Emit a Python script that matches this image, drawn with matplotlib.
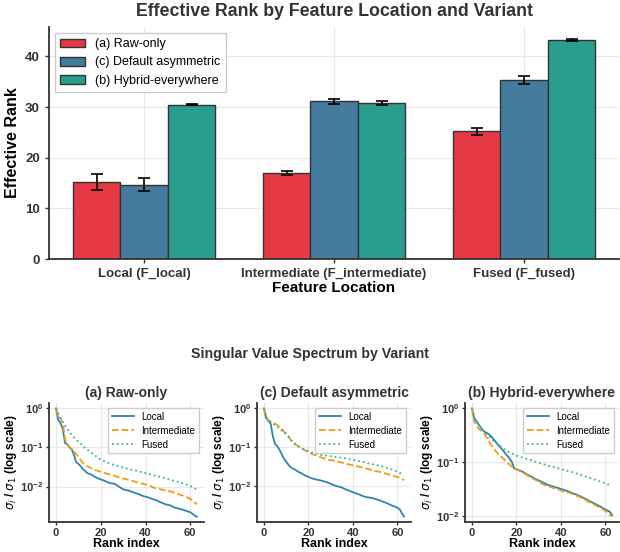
import numpy as np
import matplotlib
matplotlib.use("Agg")
import matplotlib.pyplot as plt

plt.rcParams['font.family'] = ['Liberation Sans', 'DejaVu Sans']
plt.rcParams['mathtext.fontset'] = 'dejavusans'

# --- данные: эффективный ранг ---
locations = ['Local (F_local)', 'Intermediate (F_intermediate)', 'Fused (F_fused)']
variants = ['(a) Raw-only', '(c) Default asymmetric', '(b) Hybrid-everywhere']
bar_colors = ['#E63946', '#457B9D', '#2A9D8F']

rank_raw = [15.2, 17.0, 25.2]
rank_default = [14.7, 31.1, 35.4]
rank_hybrid = [30.5, 30.8, 43.3]
err_raw = [1.5, 0.35, 0.75]
err_default = [1.2, 0.5, 0.8]
err_hybrid = [0.15, 0.4, 0.2]

# --- данные: спектр сингулярных значений (sigma_i / sigma_1) ---
raw_local = [1.0, 0.50, 0.42, 0.30, 0.13, 0.12, 0.10, 0.09, 0.065, 0.042,
             0.038, 0.033, 0.028, 0.025, 0.022, 0.021, 0.020, 0.018, 0.017, 0.016,
             0.0152, 0.0145, 0.0138, 0.0130, 0.0122, 0.0120, 0.0118, 0.0110, 0.0100, 0.0092,
             0.0085, 0.0082, 0.0080, 0.0077, 0.0073, 0.0070, 0.0067, 0.0064, 0.0060, 0.0057,
             0.0055, 0.0053, 0.0051, 0.0048, 0.0046, 0.0044, 0.0041, 0.0039, 0.0037, 0.0035,
             0.0034, 0.0033, 0.0031, 0.0029, 0.0028, 0.0027, 0.0026, 0.0025, 0.0024, 0.0023,
             0.0022, 0.0020, 0.0018, 0.0017]
raw_inter = [1.0, 0.62, 0.55, 0.42, 0.17, 0.12, 0.105, 0.09, 0.078, 0.068,
             0.058, 0.048, 0.040, 0.036, 0.033, 0.031, 0.029, 0.027, 0.026, 0.025,
             0.024, 0.023, 0.022, 0.021, 0.0205, 0.020, 0.019, 0.018, 0.0172, 0.0165,
             0.016, 0.0155, 0.015, 0.0145, 0.014, 0.0135, 0.013, 0.0125, 0.012, 0.0117,
             0.0114, 0.011, 0.0105, 0.0098, 0.0092, 0.009, 0.0088, 0.0085, 0.0082, 0.008,
             0.0077, 0.0075, 0.0072, 0.007, 0.0066, 0.0063, 0.006, 0.0058, 0.0055, 0.0052,
             0.0048, 0.0044, 0.0039, 0.0035]
raw_fused = [1.0, 0.75, 0.58, 0.45, 0.36, 0.30, 0.25, 0.21, 0.18, 0.16,
             0.14, 0.125, 0.11, 0.098, 0.088, 0.08, 0.072, 0.065, 0.059, 0.054,
             0.049, 0.046, 0.043, 0.041, 0.039, 0.037, 0.0355, 0.034, 0.0328, 0.0316,
             0.0305, 0.0295, 0.0286, 0.0277, 0.0268, 0.026, 0.0252, 0.0244, 0.0236, 0.0228,
             0.022, 0.0213, 0.0206, 0.0199, 0.0192, 0.0186, 0.018, 0.0174, 0.0168, 0.0162,
             0.0156, 0.015, 0.0144, 0.0139, 0.0134, 0.0129, 0.0124, 0.0119, 0.0114, 0.0109,
             0.0104, 0.0097, 0.009, 0.0085]

def_local = [1.0, 0.56, 0.47, 0.40, 0.19, 0.12, 0.105, 0.085, 0.065, 0.05,
             0.042, 0.035, 0.03, 0.028, 0.026, 0.024, 0.022, 0.021, 0.019, 0.018,
             0.017, 0.016, 0.0153, 0.0148, 0.0143, 0.014, 0.0135, 0.013, 0.0125, 0.012,
             0.0112, 0.0106, 0.0101, 0.0097, 0.0094, 0.009, 0.0085, 0.008, 0.0076, 0.0072,
             0.0068, 0.0065, 0.0062, 0.0059, 0.0056, 0.0053, 0.0051, 0.005, 0.0049, 0.0048,
             0.0046, 0.0044, 0.0042, 0.004, 0.0038, 0.0036, 0.0034, 0.0032, 0.003, 0.0029,
             0.0027, 0.0025, 0.002, 0.0016]
def_inter = [1.0, 0.56, 0.5, 0.46, 0.42, 0.40, 0.37, 0.33, 0.29, 0.25,
             0.22, 0.19, 0.155, 0.13, 0.12, 0.11, 0.1, 0.092, 0.085, 0.079,
             0.074, 0.069, 0.065, 0.062, 0.059, 0.056, 0.053, 0.051, 0.049, 0.047,
             0.046, 0.045, 0.044, 0.043, 0.041, 0.04, 0.039, 0.037, 0.036, 0.035,
             0.034, 0.033, 0.032, 0.031, 0.03, 0.029, 0.028, 0.027, 0.026, 0.025,
             0.024, 0.0235, 0.023, 0.022, 0.0212, 0.0205, 0.0198, 0.019, 0.0183, 0.0176,
             0.017, 0.016, 0.015, 0.014]
def_fused = [1.0, 0.6, 0.49, 0.44, 0.41, 0.37, 0.34, 0.31, 0.27, 0.24,
             0.215, 0.185, 0.155, 0.135, 0.12, 0.108, 0.1, 0.094, 0.088, 0.083,
             0.079, 0.075, 0.071, 0.068, 0.066, 0.064, 0.062, 0.061, 0.06, 0.059,
             0.058, 0.057, 0.056, 0.055, 0.054, 0.053, 0.052, 0.05, 0.049, 0.048,
             0.047, 0.046, 0.044, 0.043, 0.042, 0.041, 0.039, 0.038, 0.037, 0.036,
             0.035, 0.034, 0.033, 0.032, 0.031, 0.0295, 0.028, 0.027, 0.026, 0.0245,
             0.023, 0.0215, 0.0205, 0.02]

hyb_local = [1.0, 0.65, 0.58, 0.5, 0.44, 0.39, 0.36, 0.345, 0.32, 0.29,
             0.26, 0.23, 0.205, 0.185, 0.165, 0.145, 0.13, 0.115, 0.1, 0.077,
             0.074, 0.072, 0.069, 0.066, 0.062, 0.059, 0.056, 0.053, 0.05, 0.048,
             0.046, 0.044, 0.042, 0.04, 0.038, 0.037, 0.036, 0.035, 0.034, 0.033,
             0.032, 0.031, 0.03, 0.029, 0.028, 0.027, 0.026, 0.025, 0.024, 0.023,
             0.022, 0.021, 0.02, 0.019, 0.018, 0.0172, 0.0164, 0.0156, 0.0148, 0.014,
             0.0133, 0.0127, 0.0121, 0.0105]
hyb_inter = [1.0, 0.56, 0.47, 0.42, 0.39, 0.36, 0.32, 0.27, 0.23, 0.2,
             0.175, 0.155, 0.14, 0.128, 0.118, 0.108, 0.098, 0.09, 0.083, 0.078,
             0.073, 0.07, 0.067, 0.064, 0.06, 0.057, 0.054, 0.051, 0.048, 0.046,
             0.043, 0.041, 0.039, 0.037, 0.036, 0.035, 0.034, 0.033, 0.032, 0.031,
             0.03, 0.029, 0.028, 0.0275, 0.027, 0.026, 0.025, 0.024, 0.023, 0.022,
             0.021, 0.02, 0.019, 0.018, 0.0172, 0.0163, 0.0155, 0.0147, 0.014, 0.0133,
             0.0125, 0.0115, 0.0105, 0.0098]
hyb_fused = [1.0, 0.7, 0.58, 0.5, 0.44, 0.39, 0.35, 0.32, 0.29, 0.265,
             0.245, 0.225, 0.21, 0.195, 0.18, 0.17, 0.16, 0.152, 0.145, 0.139,
             0.134, 0.129, 0.125, 0.121, 0.117, 0.114, 0.111, 0.108, 0.104, 0.101,
             0.098, 0.095, 0.092, 0.09, 0.087, 0.085, 0.083, 0.081, 0.079, 0.077,
             0.075, 0.073, 0.071, 0.069, 0.068, 0.066, 0.064, 0.062, 0.06, 0.058,
             0.057, 0.055, 0.053, 0.051, 0.05, 0.048, 0.047, 0.045, 0.044, 0.042,
             0.041, 0.039, 0.038, 0.037]

line_names = ['Local', 'Intermediate', 'Fused']
line_colors = ['#2E86AB', '#F39C12', '#2EB8A0']
line_styles = ['-', '--', ':']

spectra = [
    ('(a) Raw-only', [raw_local, raw_inter, raw_fused]),
    ('(c) Default asymmetric', [def_local, def_inter, def_fused]),
    ('(b) Hybrid-everywhere', [hyb_local, hyb_inter, hyb_fused]),
]

W, H = 620, 552
fig = plt.figure(figsize=(W / 100, H / 100), dpi=100)


def px_axes(x0, y0, x1, y1):
    # координаты в пикселях (сверху вниз) -> доли фигуры
    return fig.add_axes([x0 / W, 1 - y1 / H, (x1 - x0) / W, (y1 - y0) / H])


def style_axes(ax):
    ax.spines['top'].set_visible(False)
    ax.spines['right'].set_visible(False)
    for s in ('left', 'bottom'):
        ax.spines[s].set_color('#333333')
        ax.spines[s].set_linewidth(1.3)
    ax.grid(True, color='#E8E8E8', linewidth=0.8)
    ax.set_axisbelow(True)
    ax.tick_params(colors='#333333', width=1.0, length=3)
    for lbl in ax.get_xticklabels() + ax.get_yticklabels():
        lbl.set_fontweight('bold')


# --- верхний график: столбцы ---
ax = px_axes(49, 27, 619, 259)
x = np.arange(len(locations))
width = 0.25
ranks = [rank_raw, rank_default, rank_hybrid]
errs = [err_raw, err_default, err_hybrid]
for i in range(3):
    ax.bar(x + (i - 1) * width, ranks[i], width, yerr=errs[i], color=bar_colors[i],
           edgecolor='#333333', linewidth=1.0, label=variants[i],
           error_kw=dict(ecolor='black', capsize=4, elinewidth=1.2, capthick=1.2))
ax.set_xticks(x)
ax.set_xticklabels(locations)
ax.set_xlim(-0.5, 2.5)
ax.set_ylim(0, 45.8)
ax.set_yticks([0, 10, 20, 30, 40])
style_axes(ax)
ax.tick_params(labelsize=9.5)
ax.set_xlabel('Feature Location', fontsize=11, fontweight='bold', labelpad=1)
ax.set_ylabel('Effective Rank', fontsize=11.5, fontweight='bold')
ax.set_title('Effective Rank by Feature Location and Variant', fontsize=12.8,
             fontweight='bold', color='#333333', pad=8)
ax.legend(loc='upper left', fontsize=9, fancybox=False, edgecolor='#CCCCCC',
          framealpha=1.0)

fig.text(0.5, 1 - 354 / H, 'Singular Value Spectrum by Variant', ha='center',
         va='center', fontsize=10.2, fontweight='bold', color='#333333')

# --- нижние графики: спектры ---
panels = [(49, 204), (257, 411), (465, 619)]
idx = np.arange(len(raw_local))
for (x0, x1), (title, series) in zip(panels, spectra):
    sax = px_axes(x0, 403, x1, 522)
    for vals, name, c, ls in zip(series, line_names, line_colors, line_styles):
        sax.plot(idx, vals, color=c, linestyle=ls, linewidth=1.3, label=name)
    sax.set_yscale('log')
    sax.set_xticks([0, 20, 40, 60])
    style_axes(sax)
    sax.tick_params(labelsize=8, length=2.5, pad=1.5)
    sax.tick_params(which='minor', length=0)
    sax.set_title(title, fontsize=10, fontweight='bold', color='#333333', pad=4)
    sax.set_xlabel('Rank index', fontsize=9, fontweight='bold', labelpad=0)
    sax.set_ylabel(r'$\boldsymbol{\sigma_i}$ / $\boldsymbol{\sigma_1}$ (log scale)',
                   fontsize=8.5, fontweight='bold', labelpad=1)
    sax.legend(loc='upper right', fontsize=7, fancybox=False, edgecolor='#CCCCCC',
               framealpha=1.0, labelspacing=0.4, handlelength=2.2)

fig.savefig('out.png', dpi=100)
